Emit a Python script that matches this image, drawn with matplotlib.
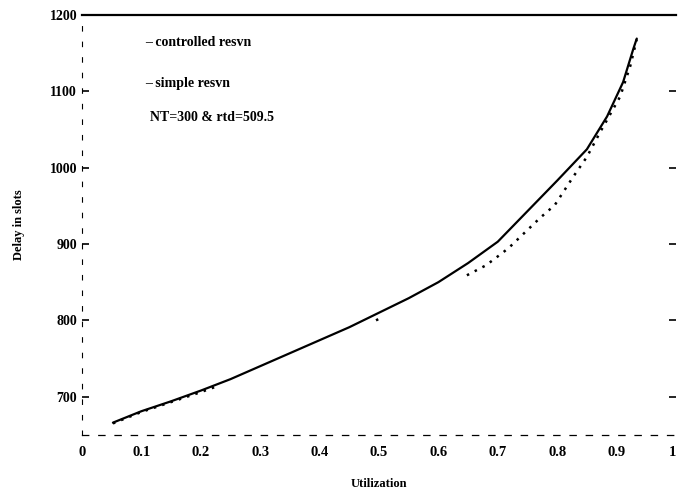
import matplotlib.pyplot as plt
import numpy as np

plt.rcParams["font.family"] = ["Liberation Serif", "DejaVu Serif"]
plt.rcParams["font.weight"] = "bold"

# controlled resvn (solid)
util_ctrl = [0.052, 0.10, 0.15, 0.20, 0.25, 0.30, 0.35, 0.40, 0.45, 0.50, 0.55, 0.60,
             0.65, 0.70, 0.75, 0.80, 0.85, 0.884, 0.911, 0.928, 0.934]
delay_ctrl = [666, 681, 694, 708, 723, 740, 757, 774, 791, 810, 829, 850,
              875, 903, 943, 983, 1024, 1067, 1112, 1155, 1169]

# simple resvn (dotted, broken in the scan)
util_simple = [0.052, 0.10, 0.15, 0.20, 0.225, np.nan, 0.495, 0.50, np.nan,
               0.648, 0.68, 0.709, 0.72, 0.771, 0.796, 0.827, 0.85, 0.872, 0.906, 0.923, 0.934]
delay_simple = [665, 680, 693, 706, 713, np.nan, 800, 802, np.nan,
                859, 872, 889, 896, 934, 951, 988, 1014, 1046, 1093, 1133, 1168]

xticks = [0, 0.1, 0.2, 0.3, 0.4, 0.5, 0.6, 0.7, 0.8, 0.9, 1.0]
xlabels = ["0", "0.1", "0.2", "0.3", "0.4", "0.5", "0.6", "0.7", "0.8", "0.9", "1"]
yticks = [700, 800, 900, 1000, 1100, 1200]

fig = plt.figure(figsize=(6.78, 4.97), dpi=100)
ax = fig.add_axes([0.121, 0.125, 0.876, 0.845])

ax.plot(util_ctrl, delay_ctrl, color="black", lw=1.6, solid_capstyle="round")
ax.plot(util_simple, delay_simple, color="black", lw=1.8, linestyle=(0, (1, 2.5)))

ax.set_xlim(0, 1.0)
ax.set_ylim(650, 1200)
ax.set_xticks(xticks)
ax.set_xticklabels(xlabels)
ax.set_yticks(yticks)
ax.tick_params(axis="y", direction="in", length=5, width=1.2, right=True, labelsize=10)
ax.tick_params(axis="x", direction="in", length=0, labelsize=10.5, pad=8)
# keep the last label inside the canvas
ax.get_xticklabels()[-1].set_horizontalalignment("right")

ax.spines["top"].set_linewidth(1.6)
ax.spines["right"].set_visible(False)
ax.spines["left"].set_linestyle((0, (4, 10)))
ax.spines["left"].set_linewidth(0.8)
ax.spines["bottom"].set_linestyle((0, (5, 8)))
ax.spines["bottom"].set_linewidth(0.9)

ax.text(0.107, 0.925, "\u2013 controlled resvn", transform=ax.transAxes, fontsize=10)
ax.text(0.107, 0.828, "\u2013 simple resvn", transform=ax.transAxes, fontsize=10)
ax.text(0.115, 0.748, "NT=300 & rtd=509.5", transform=ax.transAxes, fontsize=10)

ax.set_xlabel("Utilization", fontsize=9, fontweight="bold", labelpad=14)
ax.set_ylabel("Delay in slots", fontsize=9, fontweight="bold", labelpad=18)

fig.savefig("out.png", dpi=100)
